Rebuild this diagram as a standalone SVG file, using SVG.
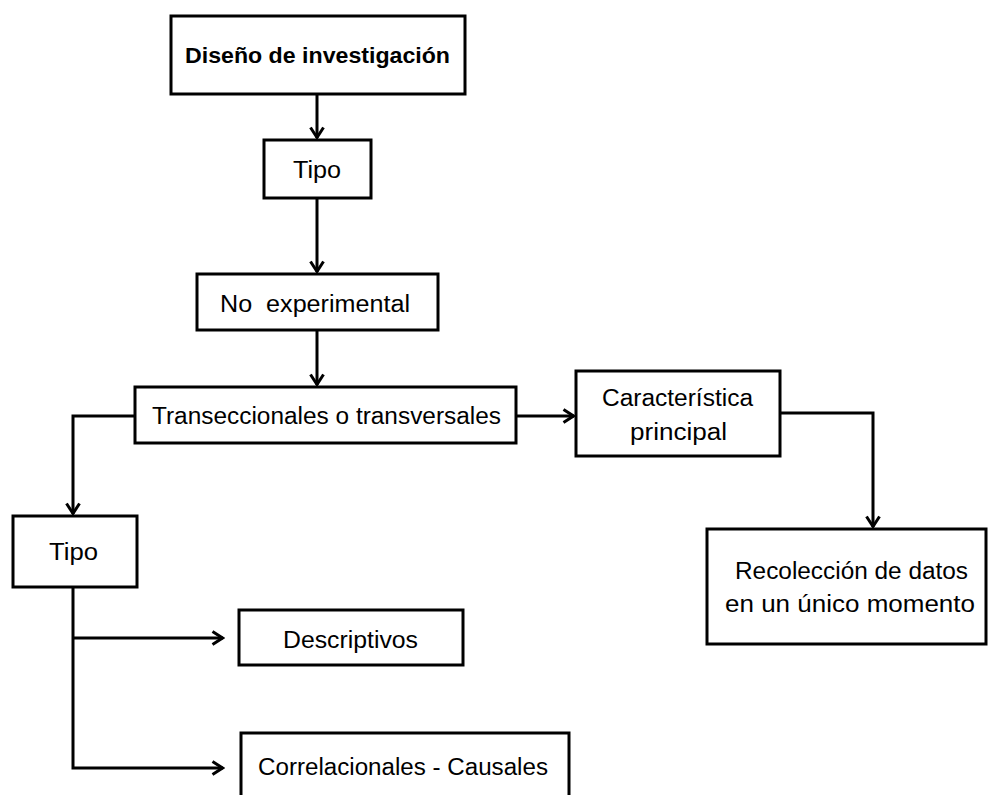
<svg xmlns="http://www.w3.org/2000/svg" width="988" height="795" viewBox="0 0 988 795">
<style>
.box{fill:#fff;stroke:#000;stroke-width:3}
.t{font-family:"Liberation Sans",Arial,sans-serif;font-size:23px;fill:#000;white-space:pre}
.b{font-weight:bold;font-size:22px}
.c{fill:none;stroke:#000;stroke-width:3}
</style>
<defs>
<marker id="arr" viewBox="0 0 14 16" refX="12.5" refY="8" markerWidth="14" markerHeight="16" markerUnits="userSpaceOnUse" orient="auto">
<path d="M2,1.5 L12,8 L2,14.5" fill="none" stroke="#000" stroke-width="3"/>
</marker>
</defs>
<rect width="988" height="795" fill="#fff"/>
<g id="connectors">
<path class="c" d="M317,94 V138" marker-end="url(#arr)"/>
<path class="c" d="M317,198 V272" marker-end="url(#arr)"/>
<path class="c" d="M317,330 V385" marker-end="url(#arr)"/>
<path class="c" d="M516,416 H574" marker-end="url(#arr)"/>
<path class="c" d="M135,416 H73 V514" marker-end="url(#arr)"/>
<path class="c" d="M780,413 H873 V527" marker-end="url(#arr)"/>
<path class="c" d="M73,587 V768 H223" marker-end="url(#arr)"/>
<path class="c" d="M73,638 H223" marker-end="url(#arr)"/>
</g>
<g id="n1"><rect class="box" x="171" y="16" width="294" height="78"/><text class="t b" x="185" y="63" textLength="265" lengthAdjust="spacingAndGlyphs">Diseño de investigación</text></g>
<g id="n2"><rect class="box" x="264" y="140" width="107" height="58"/><text class="t" x="293" y="178" textLength="48" lengthAdjust="spacingAndGlyphs">Tipo</text></g>
<g id="n3"><rect class="box" x="197" y="274" width="241" height="56"/><text class="t" x="220" y="312" textLength="190" lengthAdjust="spacingAndGlyphs">No  experimental</text></g>
<g id="n4"><rect class="box" x="135" y="387" width="381" height="56"/><text class="t" x="152" y="424" textLength="349" lengthAdjust="spacingAndGlyphs">Transeccionales o transversales</text></g>
<g id="n5"><rect class="box" x="576" y="371" width="204" height="85"/><text class="t" x="602" y="406" textLength="151" lengthAdjust="spacingAndGlyphs">Característica</text><text class="t" x="630" y="440" textLength="97" lengthAdjust="spacingAndGlyphs">principal</text></g>
<g id="n6"><rect class="box" x="707" y="529" width="279" height="115"/><text class="t" x="735" y="579" textLength="233" lengthAdjust="spacingAndGlyphs">Recolección de datos</text><text class="t" x="725" y="612" textLength="250" lengthAdjust="spacingAndGlyphs">en un único momento</text></g>
<g id="n7"><rect class="box" x="13" y="516" width="124" height="71"/><text class="t" x="49" y="560" textLength="49" lengthAdjust="spacingAndGlyphs">Tipo</text></g>
<g id="n8"><rect class="box" x="239" y="610" width="224" height="55"/><text class="t" x="283" y="648" textLength="135" lengthAdjust="spacingAndGlyphs">Descriptivos</text></g>
<g id="n9"><rect class="box" x="241" y="733" width="328" height="70"/><text class="t" x="258" y="775" textLength="290" lengthAdjust="spacingAndGlyphs">Correlacionales - Causales</text></g>
</svg>
